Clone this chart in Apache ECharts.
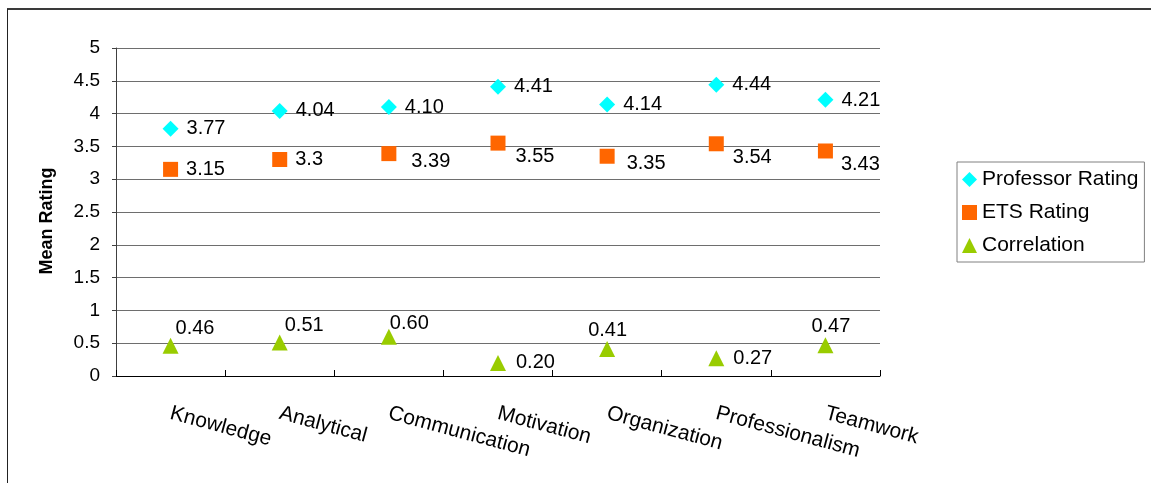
<!DOCTYPE html>
<html>
<head>
<meta charset="utf-8">
<script src="https://cdn.jsdelivr.net/npm/echarts@6/dist/echarts.min.js"></script>
<style>
  html, body { margin: 0; padding: 0; background: #ffffff; }
  #chart { width: 1151px; height: 483px; }
</style>
</head>
<body>
<div id="chart"></div>
<script>
// Skill areas along the horizontal axis
const categories = ['Knowledge', 'Analytical', 'Communication', 'Motivation', 'Organization', 'Professionalism', 'Teamwork'];

// Mean ratings per skill, kept as written so the labels keep their decimals
const professorRating = ['3.77', '4.04', '4.10', '4.41', '4.14', '4.44', '4.21'];
const etsRating = ['3.15', '3.3', '3.39', '3.55', '3.35', '3.54', '3.43'];
const correlation = ['0.46', '0.51', '0.60', '0.20', '0.41', '0.27', '0.47'];

// Value axis range
const yMin = 0;
const yMax = 5;
const yStep = 0.5;

// Hand-placed label nudges [dx, dy] for each point
const professorLabelShift = [[0, 0], [0, 0], [0, 0], [0, 0], [0, 0], [0, 0], [0, 1]];
const etsLabelShift = [[0, 0], [0, 0], [7, 8], [2, 13], [4, 7], [1, 14], [0, 13]];
const correlationLabelShift = [[-11, -17], [-11, -17], [-15, -13], [2, 0], [-35, -19], [1, 0], [-30, -19]];

const FONT = '"Liberation Sans", Arial, Helvetica, sans-serif';

function buildData(values, shifts) {
  return values.map((v, i) => ({
    value: [i, Number(v)],
    label: { offset: shifts[i] }
  }));
}

function makeSeries(name, values, shifts, symbol, size, color) {
  return {
    name: name,
    type: 'scatter',
    symbol: symbol,
    symbolSize: size,
    itemStyle: { color: color, opacity: 1 },
    data: buildData(values, shifts),
    label: {
      show: true,
      position: 'right',
      distance: 8,
      color: '#000',
      fontFamily: FONT,
      fontSize: 20,
      formatter: p => values[p.dataIndex]
    },
    emphasis: { disabled: true }
  };
}

const chart = echarts.init(document.getElementById('chart'), null, { renderer: 'canvas' });

chart.setOption({
  animation: false,
  backgroundColor: '#ffffff',
  textStyle: { fontFamily: FONT },
  graphic: [
    { type: 'line', shape: { x1: 7, y1: 9, x2: 1151, y2: 9 }, style: { stroke: '#3a3a3a', lineWidth: 2 } },
    { type: 'line', shape: { x1: 7.5, y1: 9, x2: 7.5, y2: 483 }, style: { stroke: '#222', lineWidth: 1 } }
  ],
  grid: { left: 116, right: 271, top: 48, bottom: 107 },
  legend: {
    orient: 'vertical',
    left: 957,
    top: 162,
    padding: [7, 6, 6, 5],
    itemGap: 12,
    itemWidth: 15,
    itemHeight: 15,
    borderColor: '#808080',
    borderWidth: 1,
    textStyle: { fontFamily: FONT, fontSize: 21, color: '#000', lineHeight: 19 },
    data: [
      { name: 'Professor Rating', icon: 'diamond' },
      { name: 'ETS Rating', icon: 'rect' },
      { name: 'Correlation', icon: 'triangle' }
    ]
  },
  xAxis: {
    type: 'category',
    data: categories,
    boundaryGap: true,
    axisLine: { lineStyle: { color: '#000', width: 1 } },
    axisTick: { show: true, inside: true, length: 6, lineStyle: { color: '#000' } },
    axisLabel: {
      rotate: -15,
      margin: 37,
      interval: 0,
      color: '#000',
      fontFamily: FONT,
      fontSize: 21
    },
    splitLine: { show: false }
  },
  yAxis: {
    type: 'value',
    min: yMin,
    max: yMax,
    interval: yStep,
    name: 'Mean Rating',
    nameLocation: 'middle',
    nameGap: 60,
    nameTextStyle: { fontFamily: FONT, fontSize: 18, fontWeight: 'bold', color: '#000', padding: [0, 18, 0, 0] },
    axisLine: { show: true, lineStyle: { color: '#404040', width: 1 } },
    axisTick: { show: true, length: 4, lineStyle: { color: '#404040' } },
    axisLabel: { margin: 16, color: '#000', fontFamily: FONT, fontSize: 19 },
    splitLine: { show: true, lineStyle: { color: '#6e6e6e', width: 1 } }
  },
  series: [
    makeSeries('Professor Rating', professorRating, professorLabelShift, 'diamond', 16, '#00FFFF'),
    makeSeries('ETS Rating', etsRating, etsLabelShift, 'rect', 15, '#FF6600'),
    makeSeries('Correlation', correlation, correlationLabelShift, 'triangle', 16, '#99CC00')
  ]
});
</script>
</body>
</html>
